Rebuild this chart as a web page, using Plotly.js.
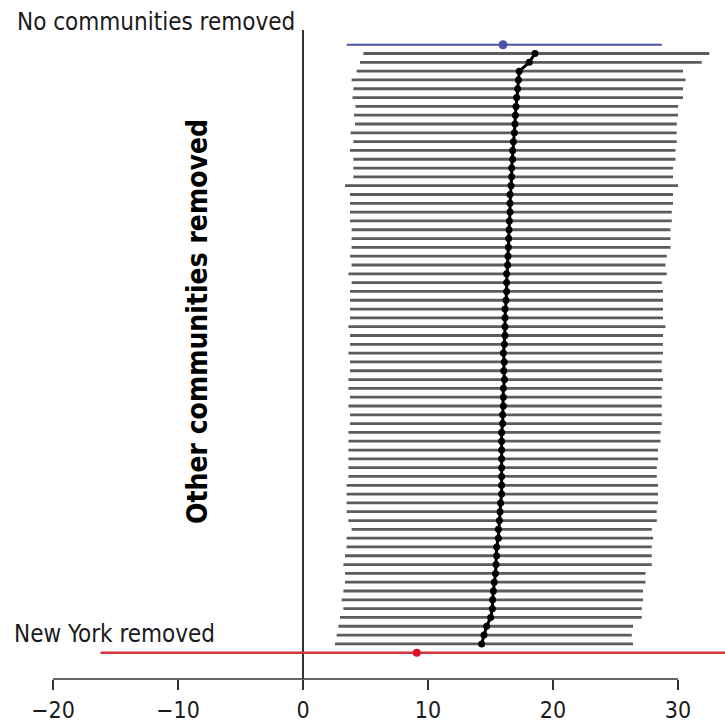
<!DOCTYPE html>
<html>
<head>
<meta charset="utf-8">
<script src="https://cdn.plot.ly/plotly-3.0.1.min.js"></script>
<style>html,body{margin:0;padding:0;background:#fff;}</style>
</head>
<body>
<div id="chart" style="width:725px;height:727px;"></div>
<script>
// Leave-one-out estimates (top to bottom), "Other communities removed"
const otherLo = [4.83,4.56,4.29,3.89,4.03,3.96,4.2,4.08,4.16,3.81,4.03,3.76,4.03,4.03,4.03,3.36,3.76,3.76,3.76,3.76,3.89,3.89,3.89,3.76,3.89,3.63,3.89,3.76,3.76,3.76,3.76,3.63,3.76,3.76,3.63,3.76,3.76,3.63,3.63,3.76,3.63,3.76,3.76,3.63,3.63,3.63,3.63,3.63,3.63,3.49,3.49,3.49,3.49,3.63,3.89,3.49,3.49,3.36,3.23,3.36,3.36,3.23,3.09,3.23,2.96,2.83,2.69,2.56];
const otherHi = [32.5,31.9,30.4,30.6,30.4,30.4,30.0,30.0,29.9,29.9,29.9,29.8,29.8,29.6,29.6,30.0,29.6,29.6,29.5,29.5,29.4,29.4,29.4,29.1,29.0,29.1,28.7,28.8,28.8,28.8,28.8,29.0,28.8,28.8,28.8,28.7,28.7,28.8,28.7,28.7,28.7,28.7,28.7,28.6,28.6,28.4,28.4,28.3,28.3,28.4,28.4,28.4,28.3,28.3,27.9,28.0,27.9,27.9,27.9,27.4,27.4,27.2,27.2,27.1,27.1,26.4,26.3,26.4];
const otherEst = [18.56,18.1,17.3,17.23,17.17,17.09,17.04,16.99,16.96,16.91,16.83,16.77,16.77,16.69,16.69,16.64,16.56,16.56,16.56,16.51,16.48,16.45,16.43,16.4,16.37,16.29,16.29,16.29,16.24,16.16,16.16,16.16,16.16,16.11,16.03,16.1,16.06,16.12,16.03,16.03,16.03,15.97,15.97,15.89,15.89,15.89,15.89,15.89,15.89,15.89,15.89,15.81,15.76,15.71,15.63,15.63,15.49,15.49,15.44,15.4,15.3,15.23,15.17,15.15,15.01,14.69,14.48,14.29];
// No communities removed
const noneLo = 3.5, noneHi = 28.7, noneEst = 16.0;
// New York removed
const nyLo = -16.2, nyHi = 40, nyEst = 9.1;
const tickVals = [-20,-10,0,10,20,30];
const tickText = ["\u221220","\u221210","0","10","20","30"];

const nOther = otherEst.length;           // 68
const topRow = nOther + 1;                 // 69 = "No communities removed"
const rowY = otherEst.map((_, i) => topRow - 1 - i);

const segX = [], segY = [];
for (let i = 0; i < nOther; i++) {
  segX.push(otherLo[i], otherHi[i], null);
  segY.push(rowY[i], rowY[i], null);
}

const font = "'DejaVu Sans Condensed', 'Liberation Sans Narrow', sans-serif";

const traces = [
  {type:'scatter', mode:'lines', x:segX, y:segY, line:{color:'#5c5c5c', width:2.8}, hoverinfo:'skip'},
  {type:'scatter', mode:'lines+markers', x:otherEst, y:rowY, line:{color:'#000', width:3}, marker:{color:'#000', size:7}},
  {type:'scatter', mode:'lines', x:[noneLo, noneHi], y:[topRow, topRow], line:{color:'#4c52a8', width:2}},
  {type:'scatter', mode:'markers', x:[noneEst], y:[topRow], marker:{color:'#4c52a8', size:9}},
  {type:'scatter', mode:'lines', x:[nyLo, nyHi], y:[0, 0], line:{color:'#d3343f', width:2.5}},
  {type:'scatter', mode:'markers', x:[nyEst], y:[0], marker:{color:'#e0102a', size:8}}
];

const pxPerRow = 608/69;
const layout = {
  width:725, height:727,
  margin:{l:0, r:0, t:30, b:48},
  paper_bgcolor:'#fff', plot_bgcolor:'#fff',
  showlegend:false,
  xaxis:{
    range:[-24.24, 33.76], tickvals:tickVals, ticktext:tickText,
    showgrid:false, showline:false, zeroline:true, zerolinecolor:'#333', zerolinewidth:1.5,
    ticks:'outside', ticklen:10, tickwidth:1.5, tickcolor:'#333',
    tickfont:{family:font, size:23, color:'#1a1a1a'}
  },
  yaxis:{
    range:[-26.3/pxPerRow, (652.7-30)/pxPerRow],
    showgrid:false, showline:false, zeroline:false, showticklabels:false, ticks:''
  },
  shapes:[
    {type:'line', xref:'x', yref:'paper', x0:-20, x1:30, y0:0, y1:0, line:{color:'#333', width:1.5}}
  ],
  annotations:[
    {text:'No communities removed', xref:'x', yref:'paper', x:-0.48, y:1, yshift:8, xanchor:'right', yanchor:'middle', showarrow:false, font:{family:font, size:24, color:'#1a1a1a'}},
    {text:'New York removed', xref:'x', yref:'y', x:-6.9, y:(652.7-634)/pxPerRow, xanchor:'right', yanchor:'middle', showarrow:false, font:{family:font, size:24, color:'#1a1a1a'}},
    {text:'<b>Other communities removed</b>', xref:'x', yref:'y', x:-8.48, y:(652.7-322)/pxPerRow, textangle:-90, xanchor:'center', yanchor:'middle', showarrow:false, font:{family:font, size:28, color:'#000'}}
  ]
};

Plotly.newPlot('chart', traces, layout, {displayModeBar:false, staticPlot:true});
</script>
</body>
</html>
